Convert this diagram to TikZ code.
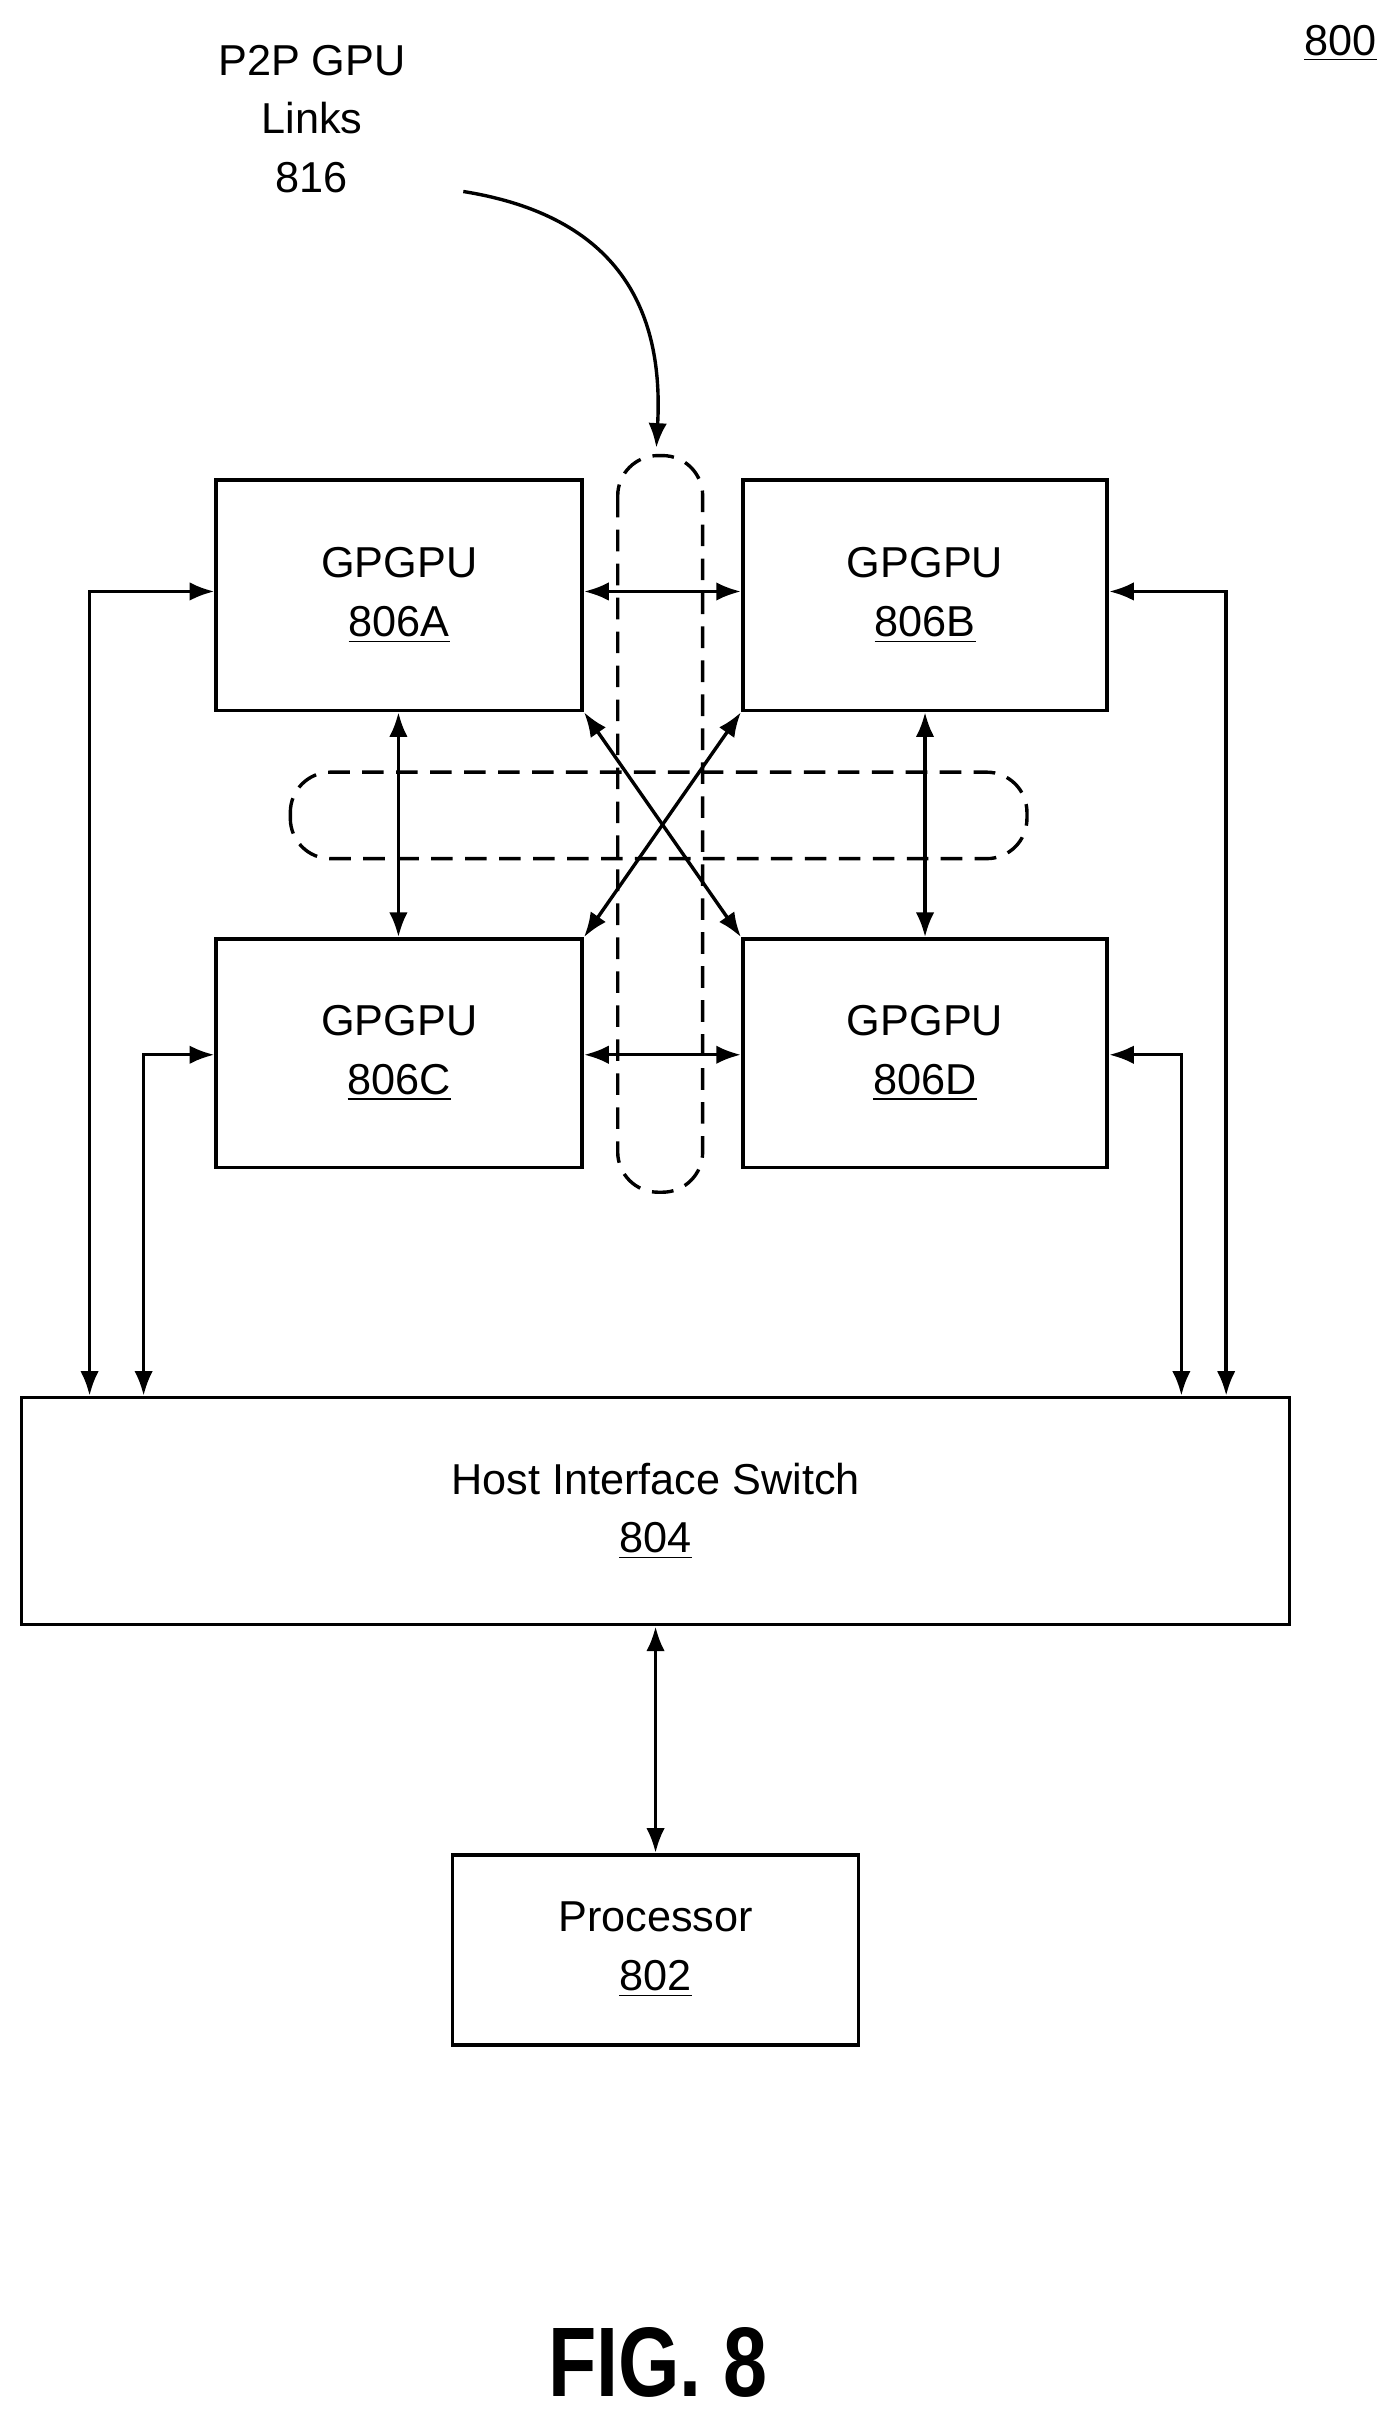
\documentclass[tikz,border=0pt]{standalone}
\usepackage{fontspec}
\setmainfont{Liberation Sans}
\usetikzlibrary{arrows.meta}
\begin{document}
\begin{tikzpicture}[x=0.5pt,y=-0.5pt,
  box/.style={draw,line width=1.2pt,inner sep=0pt,align=center,font=\fontsize{14}{19}\selectfont},
  arr/.style={line width=1.1pt,{Latex[length=8pt,width=6pt]}-{Latex[length=8pt,width=6pt]}},
  dsh/.style={draw,line width=1.1pt,dash pattern=on 7pt off 4pt}]
\useasboundingbox (0,0) rectangle (905,1569);
\node[box,minimum width=118.5pt,minimum height=74.5pt] (A) at (258.5,385.5) {GPGPU\\\underline{806A}};
\node[box,minimum width=118pt,minimum height=74.5pt] (B) at (599,385.5) {GPGPU\\\underline{806B}};
\node[box,minimum width=118.5pt,minimum height=74pt] (C) at (258.5,682) {GPGPU\\\underline{806C}};
\node[box,minimum width=118pt,minimum height=74pt] (D) at (599,682) {GPGPU\\\underline{806D}};
\node[box,minimum width=410.5pt,minimum height=73.5pt] (S) at (424.5,978.5) {Host Interface Switch\\\underline{804}};
\node[box,minimum width=131.5pt,minimum height=61.5pt] (P) at (424.5,1262.5) {Processor\\\underline{802}};
\node[font=\fontsize{14}{19}\selectfont] (n800) at (868,28) {\underline{800}};
\node[font=\fontsize{14}{19}\selectfont,align=center] (lab) at (202,77) {P2P GPU\\Links\\816};
\node[font=\bfseries\fontsize{32}{36}\selectfont,xscale=0.8] (fig) at (426,1530) {FIG. 8};
\draw[dsh,rounded corners=13pt] (400,295) rectangle (455,772);
\draw[dsh,rounded corners=13pt] (188,500) rectangle (665,556);
\coordinate (ct) at (300,124);
\coordinate (ce) at (425,290);
\draw[line width=1.1pt,-{Latex[length=8pt,width=6pt]}] (ct) .. controls (400,140) and (430,200) .. (ce);
\draw[arr] (A.east |- 0,383) -- (B.west |- 0,383);
\draw[arr] (C.east |- 0,683) -- (D.west |- 0,683);
\draw[arr] (A.south -| 258,0) -- (C.north -| 258,0);
\draw[arr] (B.south -| 599,0) -- (D.north -| 599,0);
\draw[arr] (A.south east) -- (D.north west);
\draw[arr] (B.south west) -- (C.north east);
\draw[arr] (S.north -| 58,0) -- (58,383) -- (A.west |- 0,383);
\draw[arr] (S.north -| 93,0) -- (93,683) -- (C.west |- 0,683);
\draw[arr] (S.north -| 794,0) -- (794,383) -- (B.east |- 0,383);
\draw[arr] (S.north -| 765,0) -- (765,683) -- (D.east |- 0,683);
\draw[arr] (S.south) -- (P.north);
\end{tikzpicture}
\end{document}
